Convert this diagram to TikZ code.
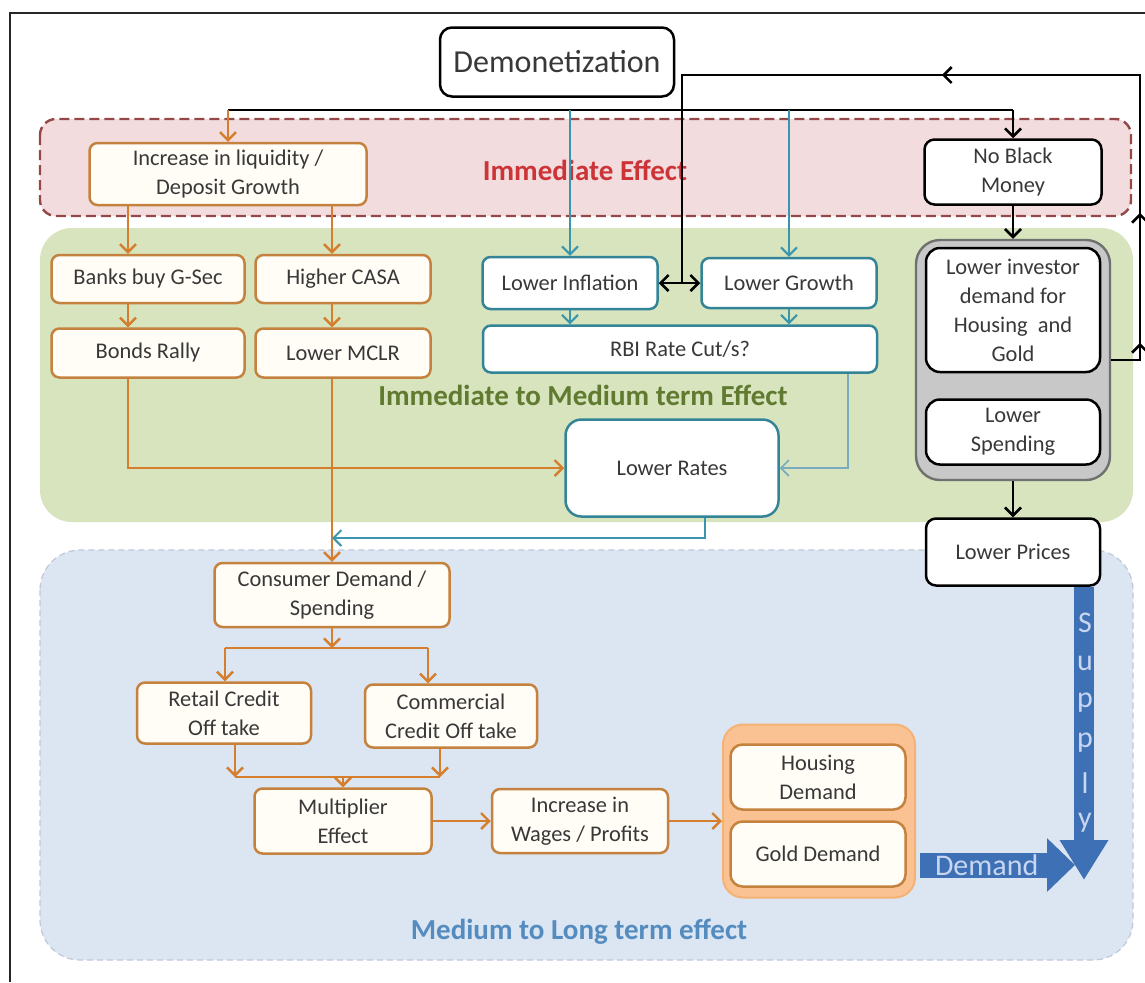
\documentclass[tikz,border=0pt]{standalone}
\usepackage{fontspec}
\setmainfont{Carlito}
\usetikzlibrary{arrows.meta,decorations.markings}

\definecolor{boxtext}{RGB}{56,56,56}
\definecolor{orgborder}{RGB}{196,130,62}
\definecolor{orgline}{RGB}{212,126,46}
\definecolor{orgfill}{RGB}{255,253,246}
\definecolor{tealborder}{RGB}{52,132,152}
\definecolor{tealline}{RGB}{58,150,172}
\definecolor{tealthin}{RGB}{120,172,190}
\definecolor{redfill}{RGB}{242,220,221}
\definecolor{reddash}{RGB}{150,72,72}
\definecolor{redlabel}{RGB}{204,52,56}
\definecolor{greenfill}{RGB}{215,228,190}
\definecolor{greenlabel}{RGB}{96,122,48}
\definecolor{bluefill}{RGB}{220,230,242}
\definecolor{bluedash}{RGB}{190,200,216}
\definecolor{bluelabel}{RGB}{84,140,192}
\definecolor{greyfill}{RGB}{200,200,200}
\definecolor{greyborder}{RGB}{112,112,112}
\definecolor{goldfill}{RGB}{250,194,146}
\definecolor{goldborder}{RGB}{244,178,116}
\definecolor{blockblue}{RGB}{62,112,182}
\definecolor{blocktext}{RGB}{200,214,240}

\begin{document}
\begin{tikzpicture}[x=0.5pt, y=-0.5pt, >={Straight Barb[length=4pt,width=8pt]}]
    \tikzstyle{box_style}=[rectangle, rounded corners=4pt, line width=1.25pt, fill=white, text=boxtext, align=center, inner sep=2pt, font=\fontsize{11.2}{14.5}\selectfont]
    \tikzstyle{org_style}=[box_style, draw=orgborder, fill=orgfill]
    \tikzstyle{teal_style}=[box_style, draw=tealborder]
    \tikzstyle{black_style}=[box_style, draw=black, rounded corners=5pt]
    \tikzstyle{label_style}=[font=\bfseries\fontsize{14.5}{17}\selectfont]
    \tikzstyle{org_line}=[orgline, line width=1.2pt]
    \tikzstyle{teal_line}=[tealline, line width=1pt]
    \tikzstyle{teal_thin}=[tealthin, line width=0.8pt]
    \tikzstyle{blk_line}=[black, line width=1.3pt]
    \tikzstyle{block_arrow}=[blockblue]

    \useasboundingbox (0,0) rectangle (1145,982);
    \fill[white] (0,0) rectangle (1145,982);
    \draw[line width=1.1pt, black!85] (10,982) -- (10,13) -- (1145,13);

    % effect regions
    \draw[fill=redfill, draw=reddash, line width=1.2pt, dash pattern=on 5pt off 2.5pt, rounded corners=8pt] (40,119) rectangle (1131,216);
    \fill[greenfill, rounded corners=16pt] (40,228) rectangle (1133,522);
    \draw[fill=bluefill, draw=bluedash, line width=0.6pt, dash pattern=on 3pt off 2pt, rounded corners=20pt] (40,550) rectangle (1133,960);

    \node at (585,170) [label_style, text=redlabel] (lbl_immediate) {Immediate Effect};
    \node at (583,395) [label_style, text=greenlabel] (lbl_medium) {Immediate to Medium term Effect};
    \node at (579,932) [label_style, text=bluelabel] (lbl_long) {Medium to Long term effect};

    % demonetization
    \draw node at (557,62) [black_style, rounded corners=6pt, minimum width=117pt, minimum height=34.5pt, font=\fontsize{16}{18}\selectfont] (demo) {Demonetization};

    % immediate effect
    \draw node at (228,174) [org_style, minimum width=138.5pt, minimum height=31pt] (incr) {Increase in liquidity /\\Deposit Growth};
    \draw node at (1013,172) [black_style, minimum width=88.5pt, minimum height=32.5pt] (nbm) {No Black\\Money};

    % immediate to medium term
    \draw node at (148,279) [org_style, minimum width=96.5pt, minimum height=24pt] (gsec) {Banks buy G-Sec};
    \draw node at (343,279) [org_style, minimum width=87.5pt, minimum height=24pt] (casa) {Higher CASA};
    \draw node at (148,353) [org_style, minimum width=96.5pt, minimum height=24.5pt] (bonds) {Bonds Rally};
    \draw node at (343,353) [org_style, minimum width=87.5pt, minimum height=24.5pt] (mclr) {Lower MCLR};
    \draw node at (570,283) [teal_style, minimum width=87.5pt, minimum height=26pt] (infl) {Lower Inflation};
    \draw node at (789,283) [teal_style, minimum width=87.5pt, minimum height=25pt] (growth) {Lower Growth};
    \draw node at (680,349) [teal_style, minimum width=197pt, minimum height=23.5pt] (rbi) {RBI Rate Cut/s?};
    \draw node at (672,468) [teal_style, rounded corners=8pt, minimum width=106.5pt, minimum height=48.5pt] (rates) {Lower Rates};

    \draw node at (1013,360) [rectangle, rounded corners=12pt, fill=greyfill, draw=greyborder, line width=1.2pt, minimum width=97pt, minimum height=120pt] (grey) {};
    \draw node at (1013,310) [black_style, rounded corners=7pt, minimum width=87pt, minimum height=62pt] (lowinv) {Lower investor\\demand for\\Housing\ \ and\\Gold};
    \draw node at (1013,432) [black_style, rounded corners=7pt, minimum width=87pt, minimum height=32.5pt] (lowspend) {Lower\\Spending};
    \draw node at (1013,552) [black_style, minimum width=87pt, minimum height=33.5pt] (prices) {Lower Prices};

    % medium to long term
    \draw node at (332,595) [org_style, minimum width=117.5pt, minimum height=32pt] (consumer) {Consumer Demand /\\Spending};
    \draw node at (224,713) [org_style, minimum width=87pt, minimum height=30.5pt] (retail) {Retail Credit\\Off take};
    \draw node at (451,716) [org_style, minimum width=86pt, minimum height=31.5pt] (commercial) {Commercial\\Credit Off take};
    \draw node at (343,821) [org_style, minimum width=88.5pt, minimum height=32.5pt] (mult) {Multiplier\\Effect};
    \draw node at (580,821) [org_style, minimum width=88pt, minimum height=32pt] (wages) {Increase in\\Wages / Profits};

    \draw node at (819,811) [rectangle, rounded corners=10pt, fill=goldfill, draw=goldborder, line width=1pt, minimum width=96pt, minimum height=86.5pt] (orgcont) {};
    \draw node at (818,777) [org_style, rounded corners=6pt, minimum width=87.5pt, minimum height=32.5pt] (housing) {Housing\\Demand};
    \draw node at (818,854) [org_style, rounded corners=6pt, minimum width=87.5pt, minimum height=32.5pt] (gold) {Gold Demand};

    % helper points
    \coordinate (busL) at (228,110);
    \coordinate (busR) at (1013,110);
    \coordinate (colA) at (128,0);
    \coordinate (colB) at (332,0);
    \coordinate (colC) at (848,0);
    \coordinate (colD) at (705,0);
    \coordinate (ratesjoin) at (332,538);
    \coordinate (fbA) at (1140,360);
    \coordinate (fbB) at (1140,75);
    \coordinate (fbC) at (682,75);
    \coordinate (fbD) at (682,283);
    \coordinate (splitC) at (332,648);
    \coordinate (splitL) at (225,648);
    \coordinate (splitR) at (428,648);
    \coordinate (mergeL) at (235,777);
    \coordinate (mergeR) at (440,777);
    \coordinate (mergeC) at (343,777);
    \coordinate (supplytip) at (1084,880);
    \coordinate (demandtail) at (920,865);
    \coordinate (demandtip) at (1075,865);

    % connect: demonetization -> first effects
    \draw[blk_line] (busL) -- (busR);
    \path[org_line, ->] (busL) edge (incr.north);
    \path[blk_line, ->] (busR) edge (nbm.north);
    \path[teal_line, ->] (infl.north |- busL) edge (infl.north);
    \path[teal_line, ->] (growth.north |- busL) edge (growth.north);

    % connect: liquidity -> banks
    \path[org_line, ->] (colA |- incr.south) edge (colA |- gsec.north);
    \path[org_line, ->] (colB |- incr.south) edge (colB |- casa.north);
    \path[org_line, ->] (colA |- gsec.south) edge (colA |- bonds.north);
    \path[org_line, ->] (colB |- casa.south) edge (colB |- mclr.north);
    \draw[org_line, ->] (colA |- bonds.south) |- (rates.west);
    \draw[org_line, ->] (colB |- mclr.south) -- (consumer.north);

    % connect: inflation / growth -> rbi -> rates
    \path[teal_line, ->] (infl.south) edge (infl.south |- rbi.north);
    \path[teal_line, ->] (growth.south) edge (growth.south |- rbi.north);
    \path[blk_line, <->] (infl) edge (growth);
    \draw[teal_thin, ->] (colC |- rbi.south) |- (rates.east);
    \draw[teal_line, ->] (colD |- rates.south) |- (ratesjoin);

    % connect: black money side
    \path[blk_line, ->] (nbm) edge (grey);
    \path[blk_line, ->] (grey) edge (prices);
    \draw[blk_line, postaction={decorate}, decoration={markings,
        mark=at position 23pt with {\arrow{>}},
        mark=at position 88pt with {\arrow{>}},
        mark=at position 256pt with {\arrow{>}}}]
      (grey.east) -- (fbA) -- (fbB) -- (fbC) -- (fbD);

    % connect: consumer demand -> credit -> multiplier
    \path[org_line, ->] (consumer.south) edge (splitC);
    \draw[org_line] (splitL) -- (splitR);
    \path[org_line, ->] (splitL) edge (splitL |- retail.north);
    \path[org_line, ->] (splitR) edge (splitR |- commercial.north);
    \path[org_line, ->] (mergeL |- retail.south) edge (mergeL);
    \path[org_line, ->] (mergeR |- commercial.south) edge (mergeR);
    \draw[org_line] (mergeL) -- (mergeR);
    \path[org_line, ->] (mergeC) edge (mult.north);
    \path[org_line, ->] (mult) edge (wages);
    \path[org_line, ->] (wages.east) edge (wages.east -| orgcont.west);

    % supply and demand
    \draw[block_arrow, line width=10pt, -{Triangle[length=20pt,width=23pt]}] (prices.south -| supplytip) -- (supplytip);
    \foreach \ch [count=\i] in {S,u,p,p,l,y}
      \node at (1085, 583+\i*40) [text=blocktext, font=\fontsize{15}{18}\selectfont] (supply_\i) {\ch};
    \draw[block_arrow, line width=12.5pt, -{Triangle[length=14pt,width=26pt]}] (demandtail) -- (demandtip)
      node[pos=0.43, text=blocktext, font=\fontsize{15}{18}\selectfont] (demand_lbl) {Demand};
\end{tikzpicture}
\end{document}
